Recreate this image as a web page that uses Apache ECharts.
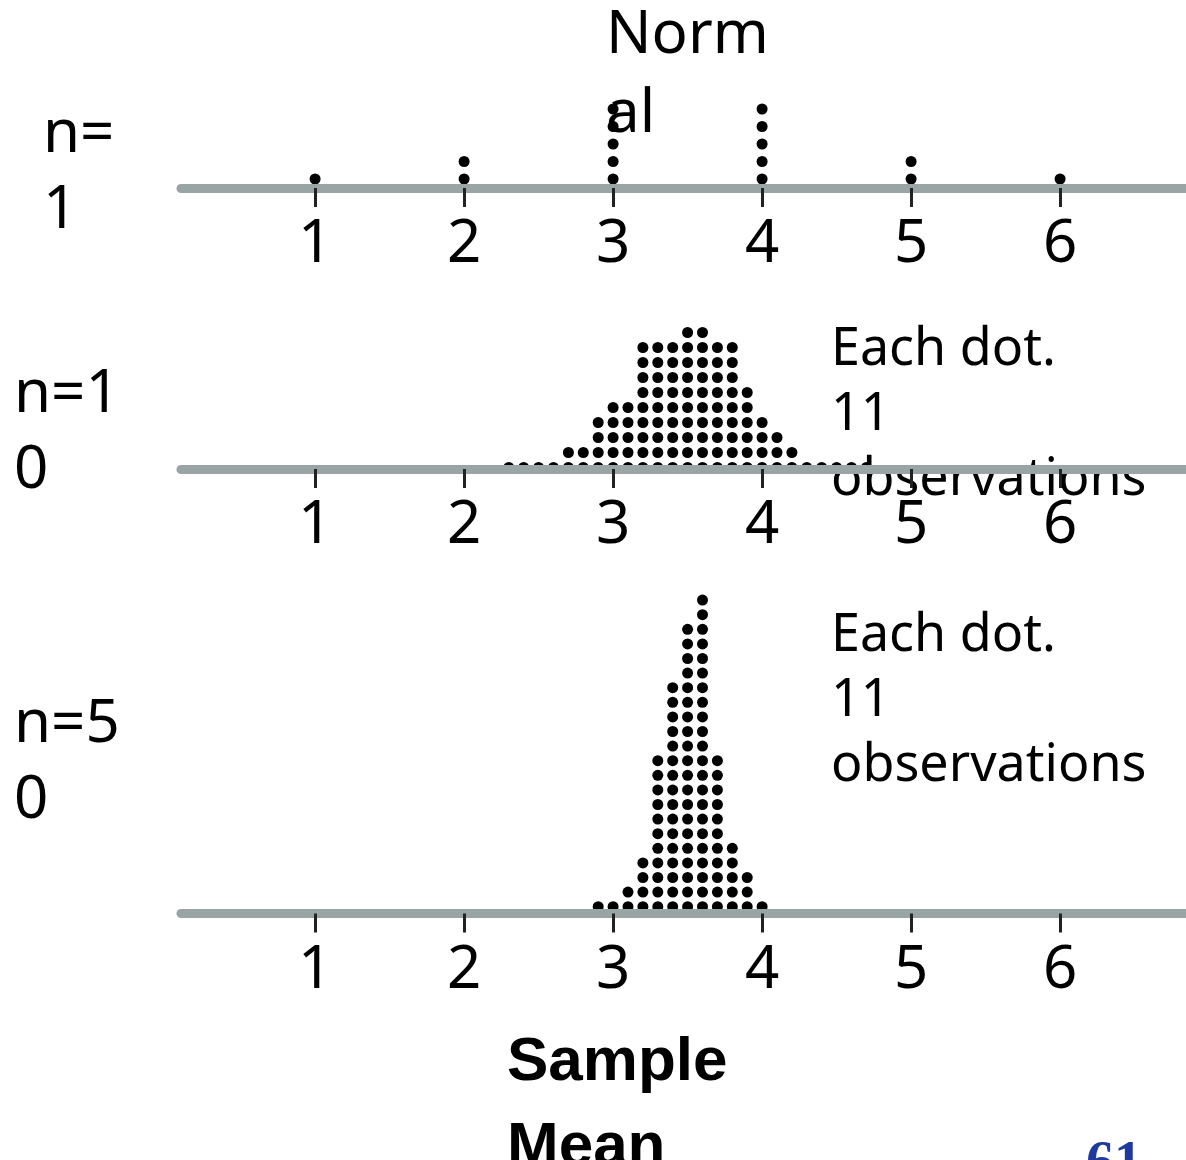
<!DOCTYPE html>
<html><head><meta charset="utf-8">
<script src="https://cdn.jsdelivr.net/npm/echarts@6/dist/echarts.min.js"></script>
<style>html,body{margin:0;padding:0;background:#fff}#c{width:1186px;height:1160px}</style>
</head><body><div id="c"></div>
<script>
// ---- data ----
const tickLabels = [1, 2, 3, 4, 5, 6];
const n1Values = [1, 2, 3, 4, 5, 6];
const n1Counts = [1, 2, 5, 5, 2, 1];
const n10Values = [2.3, 2.4, 2.5, 2.6, 2.7, 2.8, 2.9, 3.0, 3.1, 3.2, 3.3, 3.4, 3.5, 3.6, 3.7, 3.8, 3.9, 4.0, 4.1, 4.2, 4.3, 4.4, 4.5, 4.6, 4.7];
const n10Counts = [1, 1, 1, 1, 2, 2, 4, 5, 5, 9, 9, 9, 10, 10, 9, 9, 6, 4, 3, 2, 1, 1, 1, 1, 1];
const n50Values = [2.9, 3.0, 3.1, 3.2, 3.3, 3.4, 3.5, 3.6, 3.7, 3.8, 3.9, 4.0];
const n50Counts = [1, 1, 2, 4, 11, 16, 20, 22, 11, 5, 3, 1];
const panelLabels = ['n=\n1', 'n=1\n0', 'n=5\n0'];
const titleText = 'Norm\nal';
const noteText = 'Each dot.\n11\nobservations';
const axisTitle = 'Sample\nMean';
const pageNo = '61';

function stack(values, counts) {
  const pts = [];
  values.forEach((v, i) => { for (let r = 1; r <= counts[i]; r++) pts.push([v, r]); });
  return pts;
}

// ---- layout ----
const X_MIN = 0.1, X_MAX = 7, PX_PER_UNIT = 149, X_LEFT = 181;
const panels = [
  { lineY: 188, row1Y: 179, step: 17.5, top: 0, data: stack(n1Values, n1Counts) },
  { lineY: 469, row1Y: 467.5, step: 15, top: 280, data: stack(n10Values, n10Counts) },
  { lineY: 913.5, row1Y: 906.7, step: 14.6, top: 560, data: stack(n50Values, n50Counts) }
];

const grids = [], xAxes = [], yAxes = [], series = [];
panels.forEach((p, i) => {
  grids.push({ left: X_LEFT, width: (X_MAX - X_MIN) * PX_PER_UNIT, top: p.top, height: p.lineY - p.top, containLabel: false, outerBoundsMode: 'none' });
  xAxes.push({
    gridIndex: i, type: 'value', min: X_MIN, max: X_MAX, z: 5,
    splitLine: { show: false },
    axisLine: { show: true, onZero: false, lineStyle: { color: '#99a4a4', width: 9 } },
    axisTick: { show: true, length: 19, customValues: tickLabels, lineStyle: { color: '#222', width: 3 } },
    axisLabel: { show: true, customValues: tickLabels, margin: 27, fontSize: 60, fontFamily: 'Noto Sans', color: '#000' }
  });
  const ymin = 1 - (p.lineY - p.row1Y) / p.step;
  yAxes.push({ gridIndex: i, type: 'value', show: false, min: ymin, max: ymin + (p.lineY - p.top) / p.step });
  series.push({
    type: 'scatter', xAxisIndex: i, yAxisIndex: i, data: p.data,
    symbol: 'circle', symbolSize: 11, itemStyle: { color: '#000', opacity: 1 }, z: 2, silent: true
  });
});

function txt(text, x, y, size, lh, opts) {
  return Object.assign({
    type: 'text', x: x, y: y, z: 1, silent: true,
    style: Object.assign({ text: text, fontSize: size, lineHeight: lh, fontFamily: 'Noto Sans', fill: '#000', verticalAlign: 'top', align: 'left' }, opts || {})
  });
}

const graphics = [
  txt(titleText, 606, -3.5, 60, 79),
  txt(panelLabels[0], 43, 97, 60, 76),
  txt(panelLabels[1], 14, 357, 60, 76),
  txt(panelLabels[2], 14, 687, 60, 76),
  txt(noteText, 831, 318, 52, 65),
  txt(noteText, 831, 604, 52, 65),
  txt(axisTitle, 507, 1020, 62, 85, { fontFamily: 'Liberation Sans', fontWeight: 'bold' }),
  txt(pageNo, 1086, 1138, 56, 56, { fontFamily: 'Liberation Serif', fontWeight: 'bold', fill: '#1e3a9e' })
];

const chart = echarts.init(document.getElementById('c'), null, { renderer: 'canvas' });
chart.setOption({
  animation: false,
  backgroundColor: '#fff',
  grid: grids, xAxis: xAxes, yAxis: yAxes, series: series,
  graphic: graphics
});
</script>
</body></html>
